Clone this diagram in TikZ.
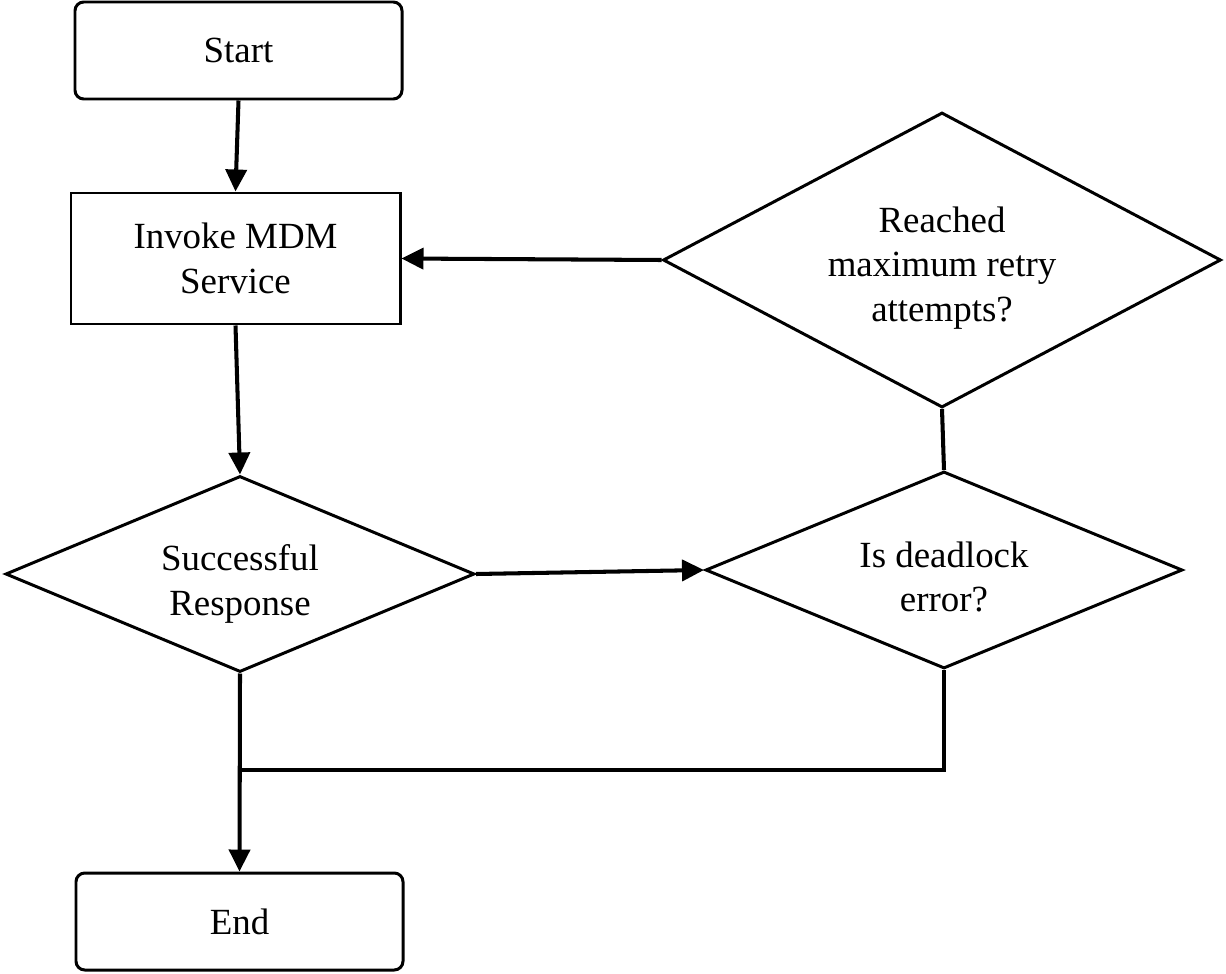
\documentclass[tikz,border=0pt]{standalone}
\usepackage{fontspec}
\setmainfont{Liberation Serif}
\usetikzlibrary{arrows.meta,shapes.geometric}
\begin{document}
\begin{tikzpicture}[x=0.02cm,y=-0.02cm,
  txt/.style={font=\fontsize{21}{25.5}\selectfont, align=center},
  term/.style={txt, draw, line width=1.7pt, rounded corners=5pt, minimum width=327*0.02cm, minimum height=97*0.02cm, inner sep=0pt},
  procbox/.style={txt, draw, line width=1.7pt, minimum width=329*0.02cm, minimum height=131*0.02cm, inner sep=0pt},
  dec/.style={draw, line width=1.7pt, diamond, inner sep=0pt},
  conn/.style={line width=2.3pt},
  arr/.style={conn, -{Triangle[length=0.44cm,width=0.42cm]}}
]
\useasboundingbox (0,0) rectangle (1226,973);
\node[term] (start) at (238.5,50.5) {Start};
\node[procbox, text depth=0pt] (invoke) at (235.5,258.5) {Invoke MDM\\Service};
\node[dec, aspect=2.39, minimum width=469*0.02cm, minimum height=196*0.02cm] (succ) at (240,574) {};
\node[txt] (succt) at (240,584) {Successful\\Response};
\node[dec, aspect=2.42, minimum width=477*0.02cm, minimum height=197*0.02cm] (dead) at (944,570) {};
\node[txt] (deadt) at (944,577) {Is deadlock\\error?};
\node[dec, aspect=1.89, minimum width=558*0.02cm, minimum height=295*0.02cm] (retry) at (942,260) {};
\node[txt] (retryt) at (942,268) {Reached\\maximum retry\\attempts?};
\node[term] (end) at (239.5,921.5) {End};
\coordinate (j1) at (944,770);
\coordinate (j2) at (240,770);
\draw[arr] (start.south) -- (invoke.north);
\draw[arr] (invoke.south) -- (succ.north);
\draw[arr] (succ.east) -- (dead.west);
\draw[conn] (dead.north) -- (retry.south);
\draw[arr] (retry.west) -- (invoke.east);
\draw[conn] (dead.south) -- (j1) -- (j2);
\draw[arr] (succ.south) -- (end.north);
\end{tikzpicture}
\end{document}
